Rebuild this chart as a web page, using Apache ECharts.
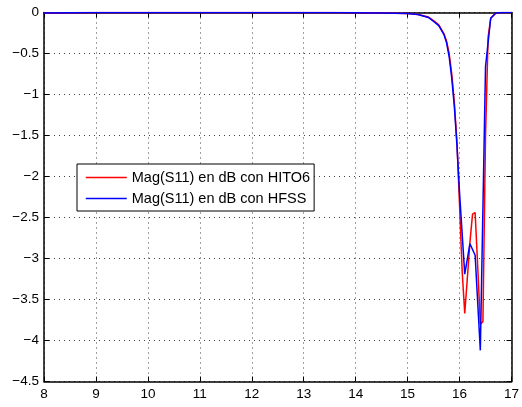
<!DOCTYPE html>
<html>
<head>
<meta charset="utf-8">
<script src="https://cdn.jsdelivr.net/npm/echarts@6/dist/echarts.min.js"></script>
<style>
html,body{margin:0;padding:0;background:#fff;}
#chart{width:522px;height:407px;}
</style>
</head>
<body>
<div id="chart"></div>
<script>
// Data
const freqRed = [8, 9, 10, 11, 12, 13, 13.5, 14, 14.5, 15, 15.2, 15.4, 15.5, 15.6, 15.7, 15.75, 15.8, 15.85, 15.9, 15.95, 16.0, 16.05, 16.1, 16.15, 16.2, 16.25, 16.3, 16.35, 16.4, 16.45, 16.5, 16.55, 16.6, 16.7, 16.8, 17];
const magRed  = [-0.005, 0, 0, 0, 0, 0, 0, -0.003, -0.006, -0.012, -0.025, -0.055, -0.1, -0.15, -0.26, -0.35, -0.5, -0.75, -1.1, -1.58, -2.35, -3.15, -3.67, -3.24, -2.8, -2.46, -2.44, -3.1, -3.8, -3.77, -1.5, -0.3, -0.07, -0.005, 0, 0];

const freqBlue = [8, 9, 10, 11, 12, 13, 13.5, 14, 14.5, 15, 15.2, 15.4, 15.5, 15.6, 15.7, 15.75, 15.8, 15.85, 15.9, 15.95, 16.0, 16.1, 16.2, 16.3, 16.4, 16.5, 16.6, 16.7, 16.8, 17];
const magBlue  = [-0.005, 0, 0, 0, 0, 0, 0, -0.003, -0.006, -0.012, -0.025, -0.06, -0.11, -0.16, -0.27, -0.37, -0.54, -0.8, -1.15, -1.62, -2.2, -3.19, -2.82, -2.96, -4.12, -0.66, -0.07, -0.005, 0, 0];

const seriesNames = ['Mag(S11) en dB con HITO6', 'Mag(S11) en dB con HFSS'];
const xTicks = [8, 9, 10, 11, 12, 13, 14, 15, 16, 17];
const yTicks = [0, -0.5, -1, -1.5, -2, -2.5, -3, -3.5, -4, -4.5];

const FONT = '"Liberation Sans", Arial, Helvetica, sans-serif';
const pair = (xs, ys) => xs.map((x, i) => [x, ys[i]]);
const fmt = v => String(v).replace('-', '\u2212');

const chart = echarts.init(document.getElementById('chart'), null, {renderer: 'canvas'});

const gridLine = {show: true, lineStyle: {color: '#000', width: 1, type: [1, 4], opacity: 0.75}};
const frameLine = {show: true, onZero: false, lineStyle: {color: '#000', width: 1.5}};
const innerTick = {show: true, inside: true, length: 5, lineStyle: {color: '#000', width: 1}};

chart.setOption({
  animation: false,
  backgroundColor: '#fff',
  grid: {left: 44, right: 9.5, top: 12.5, bottom: 25.5, containLabel: false},
  legend: {
    orient: 'vertical',
    left: 77, top: 164,
    padding: [6, 4, 5, 8],
    itemWidth: 41, itemHeight: 14, itemGap: 6,
    backgroundColor: '#fff',
    borderColor: '#000', borderWidth: 1,
    itemStyle: {opacity: 0},
    lineStyle: {width: 1.5},
    textStyle: {fontFamily: FONT, fontSize: 14.5, color: '#000'},
    data: seriesNames
  },
  xAxis: [{
    type: 'value', min: xTicks[0], max: xTicks[xTicks.length - 1], interval: 1,
    axisLine: frameLine, axisTick: innerTick, splitLine: gridLine,
    axisLabel: {fontFamily: FONT, fontSize: 13.5, color: '#000', margin: 5.5, formatter: v => fmt(v)}
  }, {
    type: 'value', position: 'top', min: xTicks[0], max: xTicks[xTicks.length - 1], interval: 1,
    axisLine: frameLine, axisTick: innerTick, splitLine: {show: false}, axisLabel: {show: false}
  }],
  yAxis: [{
    type: 'value', min: yTicks[yTicks.length - 1], max: yTicks[0], interval: 0.5,
    axisLine: frameLine, axisTick: innerTick, splitLine: gridLine,
    axisLabel: {fontFamily: FONT, fontSize: 13.5, color: '#000', margin: 5, formatter: v => fmt(v)}
  }, {
    type: 'value', position: 'right', min: yTicks[yTicks.length - 1], max: yTicks[0], interval: 0.5,
    axisLine: frameLine, axisTick: innerTick, splitLine: {show: false}, axisLabel: {show: false}
  }],
  series: [{
    name: seriesNames[0], type: 'line', symbol: 'none', xAxisIndex: 0, yAxisIndex: 0,
    lineStyle: {color: '#ff0000', width: 1.5}, itemStyle: {color: '#ff0000'},
    data: pair(freqRed, magRed)
  }, {
    name: seriesNames[1], type: 'line', symbol: 'none', xAxisIndex: 0, yAxisIndex: 0,
    lineStyle: {color: '#0000ff', width: 1.5}, itemStyle: {color: '#0000ff'},
    data: pair(freqBlue, magBlue)
  }]
});
</script>
</body>
</html>
